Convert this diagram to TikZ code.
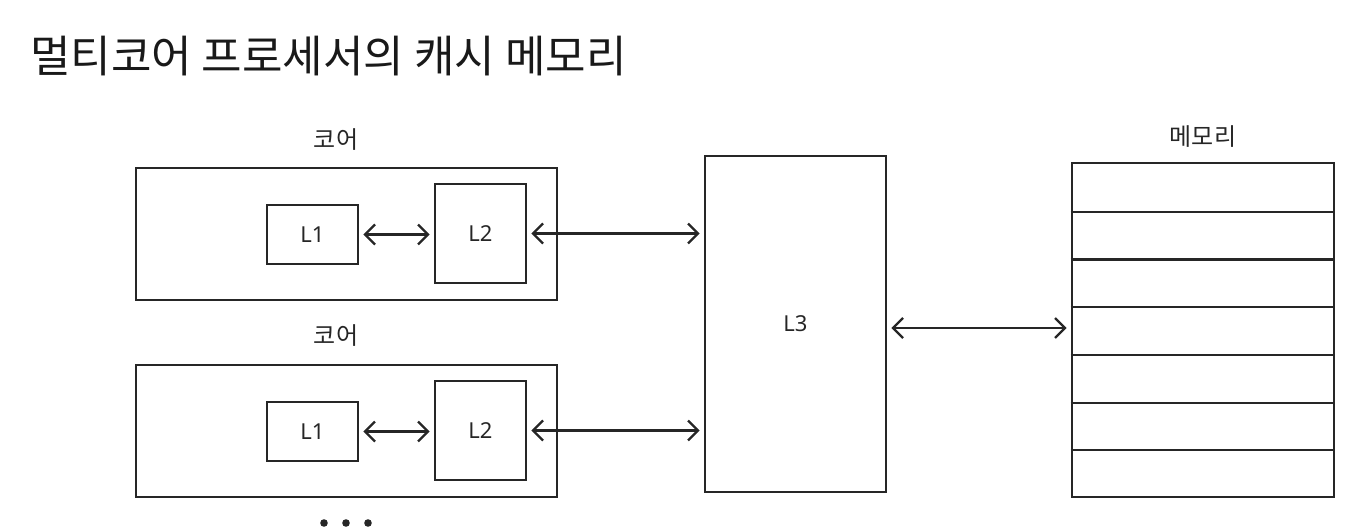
\documentclass[tikz,border=0pt]{standalone}
\usepackage{fontspec}
\newfontfamily\kr{Noto Sans CJK KR}
\newfontfamily\lat{Noto Sans}
\usetikzlibrary{arrows.meta}
\tikzset{
  box/.style={draw=black!85, line width=2.6pt, inner sep=0pt},
  arr/.style={draw=black!85, line width=2.4pt, {Straight Barb[length=10pt,width=20pt]}-{Straight Barb[length=10pt,width=20pt]}, shorten <=4pt, shorten >=4pt},
  lab/.style={font=\lat\fontsize{22}{24}\selectfont, text=black!85},
  captxt/.style={font=\kr\fontsize{24}{28}\selectfont, text=black!85},
}
\begin{document}
\begin{tikzpicture}[x=1pt,y=-1pt]
\useasboundingbox (0,0) rectangle (1370,532);
\node[anchor=west, font=\kr\fontsize{44}{50}\selectfont, text=black!90, inner sep=0pt] (title) at (30,56) {멀티코어 프로세서의 캐시 메모리};

% core 1
\node[captxt] (cap1) at (336,140) {코어};
\node[box, minimum width=421pt, minimum height=132pt] (core1) at (346.5,234) {};
\node[box, minimum width=91pt, minimum height=59pt, lab] (l1a) at (312.5,234.5) {L1};
\node[box, minimum width=91pt, minimum height=99pt, lab] (l2a) at (480.5,233.5) {L2};

% core 2
\node[captxt] (cap2) at (336,336) {코어};
\node[box, minimum width=421pt, minimum height=132pt] (core2) at (346.5,431) {};
\node[box, minimum width=91pt, minimum height=59pt, lab] (l1b) at (312.5,431.5) {L1};
\node[box, minimum width=91pt, minimum height=99pt, lab] (l2b) at (480.5,430.5) {L2};

% dots
\fill[black!85] (324,523) circle (3.8) (346,523) circle (3.8) (368,523) circle (3.8);

% L3
\node[box, minimum width=181pt, minimum height=336pt, lab] (l3) at (795.5,324) {L3};

% memory
\node[captxt] (memcap) at (1203,137) {메모리};
\node[box, minimum width=262pt, minimum height=334pt] (mem) at (1203,330) {};
\foreach \yy in {211.7,259.4,307.1,354.9,402.6,450.3}
  \draw[black!85, line width=2.2pt] (mem.west |- 0,\yy) -- (mem.east |- 0,\yy);

% connectors
\draw[arr] (l1a.east) -- (l2a.west |- l1a.east);
\draw[arr] (l1b.east) -- (l2b.west |- l1b.east);
\draw[arr] (l2a.east) -- (l3.west |- l2a.east);
\draw[arr] (l2b.east) -- (l3.west |- l2b.east);
\coordinate (m) at (l3.east |- 0,328);
\draw[arr] (m) -- (mem.west |- m);
\end{tikzpicture}
\end{document}
